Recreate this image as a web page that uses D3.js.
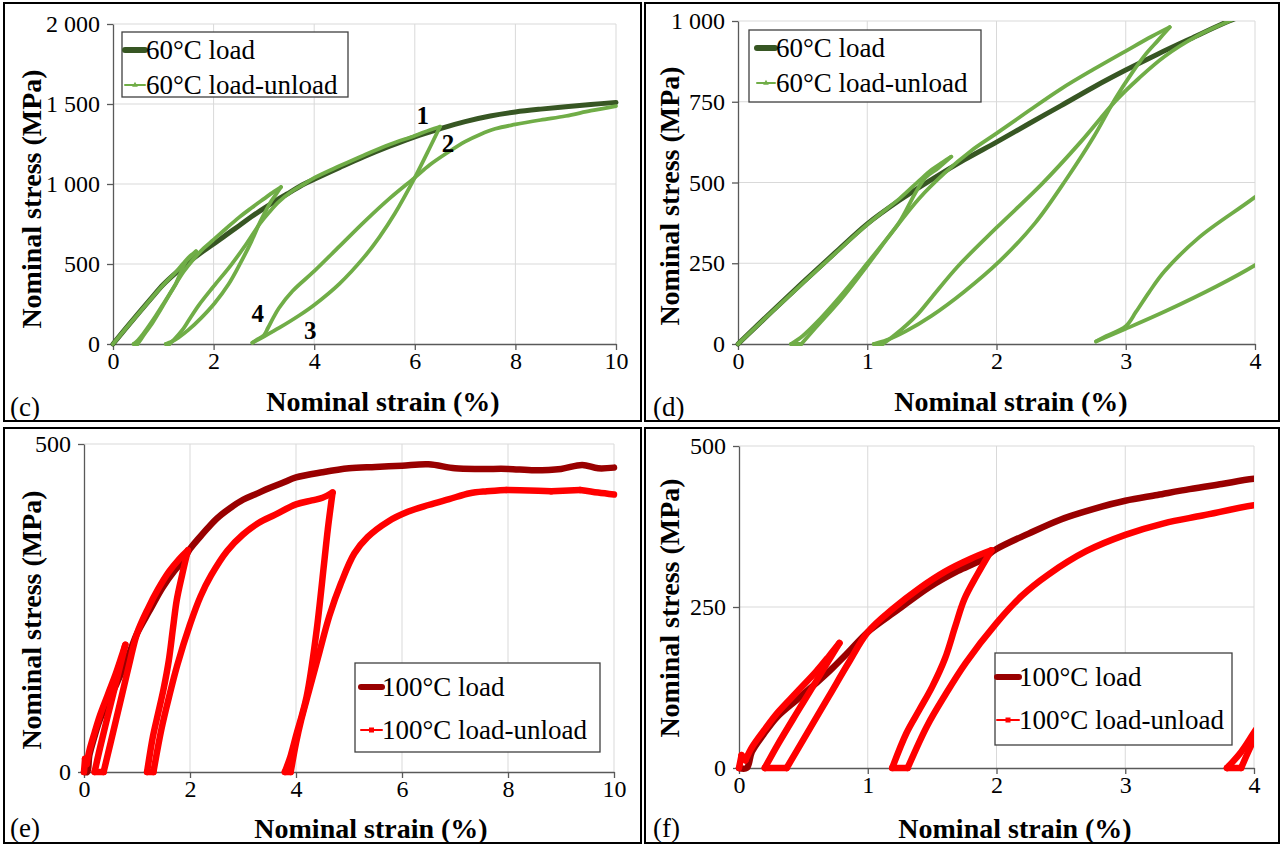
<!DOCTYPE html>
<html><head><meta charset="utf-8">
<script src="https://cdn.jsdelivr.net/npm/d3@7"></script>
<style>
body{margin:0;background:#fff}
svg{display:block}
svg text{font-family:"Liberation Serif","DejaVu Serif",serif;}
</style>
</head><body>
<svg id="chart" width="1282" height="846"></svg>
<script>
// ---------------- DATA ----------------
// 60°C monotonic load (strain %, stress MPa)
const load60Strain = [0,0.25,0.5,0.75,1.0,1.25,1.5,1.75,2.0,2.25,2.5,2.75,3.0,3.25,3.5,3.8,4.0,4.5,5.0,5.5,6.0,6.5,7.0,7.5,8.0,8.5,9.0,9.5,10.0];
const load60Stress = [0,96,190,282,372,445,510,570,625,682,738,795,848,898,945,1000,1030,1102,1172,1236,1295,1345,1390,1425,1450,1468,1483,1497,1510];
// 60°C load-unload path
const cyc60Strain = [0,0.25,0.5,0.75,1.0,1.25,1.4,1.5,1.58,1.65,
  1.55,1.45,1.37,1.25,1.1,1.0,0.8,0.6,0.5,0.41,
  0.49,0.6,0.8,1.0,1.2,1.4,1.6,1.8,2.0,2.25,2.5,2.75,3.0,3.2,3.34,
  3.25,3.15,3.05,2.92,2.75,2.54,2.3,2.02,1.75,1.5,1.3,1.15,1.05,
  1.12,1.22,1.38,1.5,1.7,2.0,2.35,2.65,2.92,3.1,3.3,3.55,3.8,
  4.0,4.5,5.0,5.5,6.0,6.3,6.5,
  6.3,6.0,5.6,5.3,5.0,4.5,4.0,3.7,3.31,3.0,2.77,
  2.85,3.0,3.08,3.18,3.3,3.57,4.0,4.5,5.0,5.5,6.0,6.3,6.63,7.0,7.3,7.6,8.0,8.5,9.0,9.5,10.0];
const cyc60Stress = [0,95,188,280,370,450,505,540,562,580,
  545,515,466,378,300,250,152,63,25,0,
  0,50,140,243,350,450,530,597,652,722,790,850,907,952,981,
  940,895,840,760,640,510,375,255,162,88,40,12,0,
  0,30,88,145,240,360,495,625,752,822,890,953,1000,
  1038,1112,1182,1247,1302,1338,1358,
  1228,1040,814,670,546,376,244,178,102,47,8,
  25,55,100,160,225,331,455,610,765,910,1040,1120,1192,1265,1310,1345,1372,1400,1425,1458,1487];
// 100°C monotonic load
const load100Strain = [0,0.06,0.1,0.19,0.3,0.45,0.6,0.71,0.85,1.0,1.23,1.48,1.7,1.87,2.0,2.25,2.5,2.75,3.0,3.25,3.5,3.75,4.0,4.5,5.0,5.5,6.0,6.5,7.0,7.5,8.0,8.5,9.0,9.4,9.7,10.0];
const load100Stress = [0,0,25,52,80,106,132,152,180,211,245,281,306,322,340,364,386,402,415,424,433,441,449,457,463,465,467,469,463,462,462,460,462,468,463,464];
// 100°C load-unload path
const cyc100Strain = [0,0.02,0.05,0.1,0.2,0.3,0.45,0.6,0.7,0.78,
  0.7,0.6,0.45,0.3,0.2,
  0.37,0.5,0.7,0.85,1.0,1.2,1.4,1.6,1.8,1.96,
  1.85,1.75,1.68,1.6,1.5,1.4,1.3,1.19,
  1.31,1.46,1.6,1.76,2.0,2.2,2.4,2.7,3.0,3.3,3.6,4.0,4.3,4.5,4.69,
  4.6,4.53,4.38,4.2,4.0,3.9,3.79,
  3.9,4.0,4.1,4.25,4.45,4.63,4.85,5.1,5.35,5.74,6.12,6.5,6.89,7.28,7.6,7.97,8.4,8.82,9.36,9.7,10.0];
const cyc100Stress = [0,20,12,32,60,86,118,150,174,194,
  168,135,86,36,0,
  0,44,112,163,211,248,279,305,325,338,
  300,262,220,170,126,90,54,0,
  0,65,113,163,225,268,300,337,362,380,392,408,414,418,426,
  370,318,210,115,55,25,0,
  0,44,80,125,185,238,288,333,358,382,397,407,416,425,428,430,429,428,430,426,423];

// tick values
const xTicks10 = [0,2,4,6,8,10];
const xTicks4 = [0,1,2,3,4];
const yTicksC = [0,500,1000,1500,2000];
const yTicksD = [0,250,500,750,1000];
const yTicksE = [0,500];
const yTicksF = [0,250,500];
const legend60 = ["60°C load","60°C load-unload"];
const legend100 = ["100°C load","100°C load-unload"];
const annotText = ["1","2","3","4"];
const panelLabels = ["(c)","(d)","(e)","(f)"];
const xTitle = "Nominal strain (%)";
const yTitle = "Nominal stress (MPa)";

// ---------------- STYLE / LAYOUT ----------------
const FONT = "Liberation Serif, DejaVu Serif, serif";
const C = {dkGreen:"#375623", ltGreen:"#70AD47", dkRed:"#990000", red:"#FF0000", grid:"#D9D9D9", axis:"#595959"};
const fmt = v => v >= 1000 ? d3.format(",")(v).replace(/,/g," ") : String(v);
const svg = d3.select("#chart");
svg.append("rect").attr("width",1282).attr("height",846).attr("fill","#fff");

const zip = (xs, ys) => xs.map((v,i)=>[v, ys[i]]);

// split a load-unload path at its turning points so that corners stay sharp
function splitSegments(pts){
  const segs=[]; let cur=[pts[0]];
  for(let i=1;i<pts.length;i++){
    cur.push(pts[i]);
    if(i<pts.length-1){
      const a=pts[i-1][1], b=pts[i][1], c=pts[i+1][1];
      const turn=(b>=a && b>c)||(b<=a && b<c)||(b===0 && (a!==0||c!==0));
      if(turn){segs.push(cur); cur=[pts[i]];}
    }
  }
  segs.push(cur);
  return segs;
}

const panels = [
 {label:panelLabels[0], box:[4,3,641,421], plot:{l:113,r:616,t:24,b:344}, xd:[0,10], yd:[0,2000], xt:xTicks10, yt:yTicksC,
  series:[{d:zip(load60Strain,load60Stress),c:C.dkGreen,w:5,split:false},{d:zip(cyc60Strain,cyc60Stress),c:C.ltGreen,w:3.8,split:true}],
  legend:{x:122,y:32,w:226,h:65,rows:[50,85],lx:[125,145],tx:146,names:legend60,mk:"tri"},
  xTitle:[383,411], yTitle:[31,199], pl:[10,407], clip:false,
  annot:[[6.16,1431],[6.66,1256],[3.92,88],[2.88,194]]},
 {label:panelLabels[1], box:[645,3,1279,421], plot:{l:738,r:1255,t:21,b:344}, xd:[0,4], yd:[0,1000], xt:xTicks4, yt:yTicksD,
  series:[{d:zip(load60Strain,load60Stress),c:C.dkGreen,w:5,split:false},{d:zip(cyc60Strain,cyc60Stress),c:C.ltGreen,w:3.8,split:true}],
  legend:{x:749,y:30,w:232,h:72,rows:[48,83],lx:[757,775],tx:776,names:legend60,mk:"tri"},
  xTitle:[1011,411], yTitle:[669,196], pl:[653,407], clip:true},
 {label:panelLabels[2], box:[4,428,641,843], plot:{l:84,r:614,t:444,b:772}, xd:[0,10], yd:[0,500], xt:xTicks10, yt:yTicksE,
  series:[{d:zip(load100Strain,load100Stress),c:C.dkRed,w:6.5,split:false},{d:zip(cyc100Strain,cyc100Stress),c:C.red,w:6.5,split:true}],
  legend:{x:355,y:663,w:245,h:89,rows:[687,730],lx:[361,382],tx:382,names:legend100,mk:"sq"},
  xTitle:[371,838], yTitle:[31,620], pl:[10,828], clip:false},
 {label:panelLabels[3], box:[645,428,1279,843], plot:{l:739,r:1254,t:446,b:768}, xd:[0,4], yd:[0,500], xt:xTicks4, yt:yTicksF,
  series:[{d:zip(load100Strain,load100Stress),c:C.dkRed,w:6.5,split:false},{d:zip(cyc100Strain,cyc100Stress),c:C.red,w:6.5,split:true}],
  legend:{x:995,y:653,w:237,h:92,rows:[677,720],lx:[997,1019],tx:1019,names:legend100,mk:"sq"},
  xTitle:[1015,838], yTitle:[669,608], pl:[653,828], clip:true}
];

panels.forEach((p,i)=>{
  const g = svg.append("g");
  const x = d3.scaleLinear().domain(p.xd).range([p.plot.l,p.plot.r]);
  const y = d3.scaleLinear().domain(p.yd).range([p.plot.b,p.plot.t]);
  // gridlines
  g.selectAll(null).data(p.xt.filter(t=>t>p.xd[0])).join("line")
    .attr("x1",d=>x(d)).attr("x2",d=>x(d)).attr("y1",p.plot.t).attr("y2",p.plot.b)
    .attr("stroke",C.grid).attr("stroke-width",1);
  g.selectAll(null).data(p.yt.filter(t=>t>p.yd[0])).join("line")
    .attr("x1",p.plot.l).attr("x2",p.plot.r).attr("y1",d=>y(d)).attr("y2",d=>y(d))
    .attr("stroke",C.grid).attr("stroke-width",1);
  // axes
  const ax = g.append("g").attr("transform",`translate(0,${p.plot.b})`)
    .call(d3.axisBottom(x).tickValues(p.xt).tickSize(6).tickSizeOuter(0).tickPadding(2).tickFormat(fmt));
  const ay = g.append("g").attr("transform",`translate(${p.plot.l},0)`)
    .call(d3.axisLeft(y).tickValues(p.yt).tickSize(6).tickSizeOuter(0).tickPadding(7).tickFormat(fmt));
  [ax,ay].forEach(a=>{
    a.attr("font-family",FONT);
    a.select(".domain").attr("stroke",C.axis).attr("stroke-width",1.3);
    a.selectAll(".tick line").attr("stroke",C.axis).attr("stroke-width",1.3);
    a.selectAll("text").attr("font-family",FONT).attr("font-size",24).attr("fill","#000");
  });
  // series
  const clipId = "clip"+i;
  const pad = p.clip ? 0 : 4;
  svg.append("clipPath").attr("id",clipId).append("rect")
    .attr("x",p.plot.l-8).attr("y",p.plot.t-pad).attr("width",p.plot.r-p.plot.l+8+pad).attr("height",p.plot.b-p.plot.t+pad+8);
  const line = d3.line().x(d=>x(d[0])).y(d=>y(d[1])).curve(d3.curveCatmullRom.alpha(0.5));
  const sg = g.append("g").attr("clip-path",`url(#${clipId})`);
  p.series.forEach(s=>{
    const segs = s.split ? splitSegments(s.d) : [s.d];
    sg.append("g").selectAll("path").data(segs).join("path")
      .attr("d",line).attr("fill","none").attr("stroke",s.c)
      .attr("stroke-width",s.w).attr("stroke-linejoin","round").attr("stroke-linecap","round");
  });
  // legend
  const L = p.legend;
  const lg = g.append("g");
  lg.append("rect").attr("x",L.x).attr("y",L.y).attr("width",L.w).attr("height",L.h)
    .attr("fill","#fff").attr("stroke","#404040").attr("stroke-width",1.3);
  L.names.forEach((n,k)=>{
    const s = p.series[k];
    const yy = L.rows[k];
    lg.append("line").attr("x1",L.lx[0]).attr("x2",L.lx[1]).attr("y1",yy).attr("y2",yy)
      .attr("stroke",s.c).attr("stroke-width",k===0?6:2).attr("stroke-linecap","round");
    if(k===1){
      const mx=(L.lx[0]+L.lx[1])/2;
      if(L.mk==="tri") lg.append("path").attr("d",d3.symbol(d3.symbolTriangle,14)()).attr("transform",`translate(${mx},${yy})`).attr("fill",s.c);
      else lg.append("rect").attr("x",mx-2.5).attr("y",yy-2.5).attr("width",5).attr("height",5).attr("fill",s.c);
    }
    lg.append("text").attr("x",L.tx).attr("y",yy).attr("dy","0.35em").attr("font-family",FONT)
      .attr("font-size",27).attr("fill","#000").text(n);
  });
  // titles
  g.append("text").attr("x",p.xTitle[0]).attr("y",p.xTitle[1]).attr("text-anchor","middle")
    .attr("font-family",FONT).attr("font-weight","bold").attr("font-size",28).text(xTitle);
  g.append("text").attr("transform",`translate(${p.yTitle[0]},${p.yTitle[1]}) rotate(-90)`).attr("text-anchor","middle")
    .attr("dy","0.35em").attr("font-family",FONT).attr("font-weight","bold").attr("font-size",28).text(yTitle);
  // panel label
  g.append("text").attr("x",p.pl[0]).attr("y",p.pl[1]).attr("dy","0.35em").attr("font-family",FONT)
    .attr("font-size",27).text(p.label);
  // annotations
  if(p.annot){
    p.annot.forEach((a,k)=>{
      g.append("text").attr("x",x(a[0])).attr("y",y(a[1])).attr("dy","0.35em").attr("text-anchor","middle")
        .attr("font-family",FONT).attr("font-weight","bold").attr("font-size",25).text(annotText[k]);
    });
  }
  // border
  g.append("rect").attr("x",p.box[0]).attr("y",p.box[1]).attr("width",p.box[2]-p.box[0]).attr("height",p.box[3]-p.box[1])
    .attr("fill","none").attr("stroke","#000").attr("stroke-width",2);
});
</script></body></html>
